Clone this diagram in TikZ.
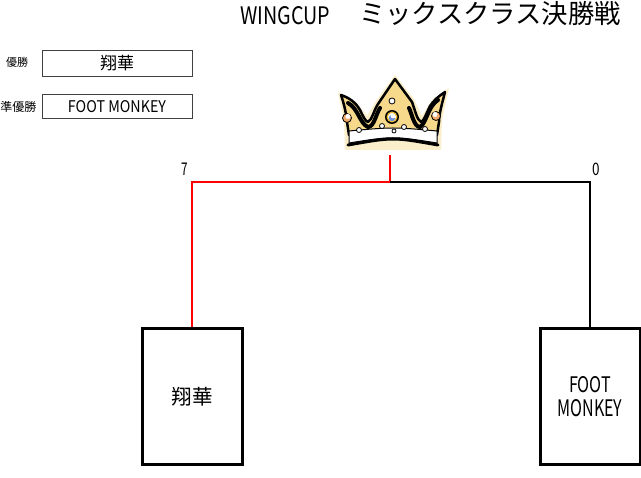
\documentclass[tikz,border=0pt]{standalone}
\usepackage{fontspec}
\usepackage{graphicx}
\setmainfont{Noto Sans CJK JP}
\definecolor{crowngold}{HTML}{F6D98A}
\definecolor{ringgold}{HTML}{E8B830}
\definecolor{jewelblue}{HTML}{6E8FD8}
\definecolor{jewelorange}{HTML}{F2A868}
\definecolor{boxgray}{HTML}{404040}
\newcommand{\fs}[1]{\fontsize{#1}{#1}\selectfont}
\newcommand{\hw}[3]{\resizebox{#1pt}{#2pt}{#3}}
\tikzset{
  bigbox/.style={draw=black, line width=3pt, minimum width=100pt, minimum height=136pt, inner sep=0pt, align=center},
  smallbox/.style={draw=boxgray, line width=1pt, minimum width=150pt, inner sep=0pt},
  lbl/.style={inner sep=0pt},
  winline/.style={draw=red, line width=2pt},
  loseline/.style={draw=black, line width=2pt},
  pearl/.style={fill=white, draw=black, line width=0.8pt},
}
\begin{document}
\begin{tikzpicture}[x=1pt,y=-1pt]
\useasboundingbox[fill=white] (0,0) rectangle (641,478);
% title
\node[lbl, anchor=west] (titleA) at (240,16) {\hw{90}{18}{WINGCUP}};
\node[lbl, anchor=west] (titleB) at (359,14) {\fs{26.3}ミックスクラス決勝戦};
% result table
\node[lbl] (l1) at (17,62) {\fs{11}優勝};
\node[smallbox, minimum height=26pt] (r1) at (117,63.5) {\fs{17}翔華};
\node[lbl] (l2) at (18.5,107) {\fs{12}準優勝};
\node[smallbox, minimum height=24pt] (r2) at (117,106.5) {\hw{98}{12}{FOOT MONKEY}};
% team boxes
\node[bigbox] (boxL) at (192,397) {\fs{20.5}翔華};
\node[bigbox] (boxR) at (590,397) {};
\node[lbl] (boxRa) at ([yshift=12pt]boxR.center) {\hw{42}{16}{FOOT}};
\node[lbl] (boxRb) at ([yshift=-11.5pt]boxR.center) {\hw{65}{17}{MONKEY}};
% bracket
\coordinate (j) at (390,182);
\coordinate (top) at (390,155);
\draw[winline] (boxL.north) |- (j);
\draw[winline] (j) -- (top);
\draw[loseline] (j) -| (boxR.north);
% scores
\node[lbl] (sL) at (185,169) {\hw{6.5}{12.5}{7}};
\node[lbl] (sR) at (596.5,169) {\hw{7.5}{12.5}{0}};
% crown
\fill[crowngold!45] (338,92) -- (356,102) -- (367,116) -- (376,101) -- (395,75) -- (414,99) -- (422,116) -- (432,100) -- (449,88) -- (442,120) -- (441,150) -- (345,150) -- (344,120) -- cycle;
\filldraw[fill=crowngold, draw=black, line width=2.5pt, line join=round]
  (341,95) .. controls (350,98) and (356,103) .. (360,110)
  .. controls (363,116) and (365,121) .. (368,122)
  .. controls (372,120) and (374,110) .. (378,104)
  -- (395,79) -- (412,102)
  .. controls (415,110) and (417,120) .. (421,122)
  .. controls (424,121) and (426,114) .. (430,106)
  .. controls (434,100) and (439,96) .. (445,92)
  .. controls (442,104) and (439,114) .. (439,122)
  -- (437,135) -- (349,135) -- (347,122)
  .. controls (346,112) and (344,104) .. (341,95) -- cycle;
\draw[black, line width=4pt, line cap=round] (348,103) .. controls (358,108) and (360,124) .. (368,127) .. controls (374,127) and (376,114) .. (380,108);
\draw[black, line width=4pt, line cap=round] (438,100) .. controls (428,106) and (426,124) .. (420,127) .. controls (414,127) and (412,114) .. (409,108);
\filldraw[fill=white, draw=black, line width=1pt] (349,131) .. controls (393,127) .. (437,131) -- (437,143) .. controls (393,136) .. (349,143) -- cycle;
\draw[black, line width=3pt, line cap=round] (348,145) .. controls (393,137) .. (438,145);
% jewels
\fill[black] (392,117) circle (7pt);
\fill[ringgold] (392,117) circle (5.5pt);
\fill[white] (392,117) circle (4pt);
\fill[jewelblue] (392,118) circle (3.2pt);
\fill[white] (393,116) circle (2.4pt);
\filldraw[fill=jewelorange, draw=black, line width=0.8pt] (347,118) circle (4.5pt);
\fill[white] (348,116.5) circle (2.5pt);
\filldraw[fill=jewelorange, draw=black, line width=0.8pt] (436,116) circle (4.5pt);
\fill[white] (435,114.5) circle (2.5pt);
\filldraw[pearl] (392,101) circle (3pt);
\filldraw[pearl] (382,126) circle (2.5pt);
\filldraw[pearl] (404,127) circle (2.5pt);
\filldraw[pearl] (359,130) circle (2.5pt);
\filldraw[pearl] (425,129) circle (2.5pt);
\filldraw[pearl] (394,131) circle (2pt);
\end{tikzpicture}
\end{document}
